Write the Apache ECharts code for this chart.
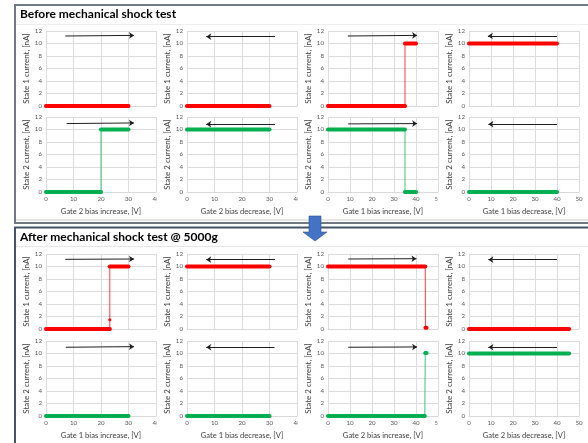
<!DOCTYPE html>
<html><head><meta charset="utf-8">
<script src="https://cdn.jsdelivr.net/npm/echarts@6/dist/echarts.min.js"></script>
<style>html,body{margin:0;padding:0;background:#fff;}#c{width:588px;height:443px;}</style>
</head><body><div id="c"></div>
<script>
// Section titles
const sectionTitles = ['Before mechanical shock test', 'After mechanical shock test @ 5000g'];
// x-axis names of bottom rows (per section)
const xNamesBefore = ['Gate 2 bias increase, [V]', 'Gate 2 bias decrease, [V]', 'Gate 1 bias increase, [V]', 'Gate 1 bias decrease, [V]'];
const xNamesAfter = ['Gate 1 bias increase, [V]', 'Gate 1 bias decrease, [V]', 'Gate 2 bias increase, [V]', 'Gate 2 bias decrease, [V]'];
const yNames = ['State 1 current, [nA]', 'State 2 current, [nA]'];
const xMaxByCol = [40, 40, 50, 50];

// Before: traces [bias V, current nA]
const B_S1_G2inc = [[0,0],[30,0]];
const B_S1_G2dec = [[0,0],[30,0]];
const B_S1_G1inc = [[0,0],[35,0],[35,10],[40,10]];
const B_S1_G1dec = [[0,10],[40,10]];
const B_S2_G2inc = [[0,0],[20,0],[20,10],[30,10]];
const B_S2_G2dec = [[0,10],[30,10]];
const B_S2_G1inc = [[0,10],[35,10],[35,0],[40,0]];
const B_S2_G1dec = [[0,0],[40,0]];
// After
const A_S1_G1inc = [[0,0],[23.2,0],[23.2,1.5],[23.2,10],[30,10]];
const A_S1_G1dec = [[0,10],[30,10]];
const A_S1_G2inc = [[0,10],[44.2,10],[44.3,0.2],[44.8,0.2]];
const A_S1_G2dec = [[0,0],[45.5,0]];
const A_S2_G1inc = [[0,0],[30,0]];
const A_S2_G1dec = [[0,0],[30,0]];
const A_S2_G2inc = [[0,0],[44,0],[44.2,10.1],[44.8,10.1]];
const A_S2_G2dec = [[0,10],[45.5,10]];

// Sweep-direction arrows [start, end]
const B_arrows = [
  [[7,11.2],[32,11.3]], [[32,11.1],[7,11.1]], [[9,11.2],[40.5,11.3]], [[40,11.2],[8.6,11.2]],
  [[7.5,10.95],[32,11.05]], [[32,10.85],[7,10.85]], [[9.2,10.9],[40.5,10.95]], [[40,10.85],[8.8,10.85]]
];
const A_arrows = [
  [[7,11.15],[32,11.2]], [[32,11.1],[7,11.1]], [[9.2,11.2],[40.2,11.25]], [[40,11.1],[8.8,11.1]],
  [[7.2,11.0],[32,11.1]], [[31.8,11.0],[7,11.0]], [[9.2,11.0],[40.5,11.05]], [[40,11.0],[8.8,11.0]]
];

const traces = [B_S1_G2inc,B_S1_G2dec,B_S1_G1inc,B_S1_G1dec,B_S2_G2inc,B_S2_G2dec,B_S2_G1inc,B_S2_G1dec,
                A_S1_G1inc,A_S1_G1dec,A_S1_G2inc,A_S1_G2dec,A_S2_G1inc,A_S2_G1dec,A_S2_G2inc,A_S2_G2dec];
const arrows = B_arrows.concat(A_arrows);

const RED = '#ff0000', GREEN = '#00b050';
const FONT = 'Lato';
const tops = [31, 117, 254, 341];
const lefts = [46, 187, 328, 469];
const W = 110, H = 75;

const grids = [], xAxes = [], yAxes = [], series = [];
for (let i = 0; i < 16; i++) {
  const s = Math.floor(i / 8), r = Math.floor((i % 8) / 4), c = i % 4;
  const bottom = r === 1;
  grids.push({left: lefts[c], top: tops[s*2 + r], width: W, height: H, containLabel: false});
  xAxes.push({
    type: 'value', gridIndex: i, min: 0, max: xMaxByCol[c], interval: 10,
    axisLine: {show: true, lineStyle: {color: '#d9d9d9'}}, axisTick: {show: false},
    splitLine: {show: true, lineStyle: {color: '#dcdcdc', width: 1}},
    axisLabel: {show: bottom, fontSize: 6.2, color: '#595959', margin: 4, fontFamily: FONT},
    name: bottom ? (s === 0 ? xNamesBefore[c] : xNamesAfter[c]) : '',
    nameLocation: 'middle', nameGap: 16,
    nameTextStyle: {fontSize: 7.6, color: '#404040', fontFamily: FONT}
  });
  yAxes.push({
    type: 'value', gridIndex: i, min: 0, max: 12, interval: 2,
    axisLine: {show: false}, axisTick: {show: false},
    splitLine: {show: true, lineStyle: {color: '#dcdcdc', width: 1}},
    axisLabel: {fontSize: 6.2, color: '#595959', margin: 4, fontFamily: FONT},
    name: yNames[r], nameLocation: 'middle', nameGap: 16, nameRotate: 90,
    nameTextStyle: {fontSize: 8, color: '#404040', fontFamily: FONT}
  });
  const col = r === 0 ? RED : GREEN;
  const tr = traces[i];
  series.push({type: 'line', xAxisIndex: i, yAxisIndex: i, data: tr, symbol: 'circle', symbolSize: 3,
    showSymbol: true, lineStyle: {color: col, width: 1, opacity: 0.75}, itemStyle: {color: col}, z: 2, silent: true});
  for (let k = 0; k < tr.length - 1; k++) {
    const a = tr[k], b = tr[k+1];
    if (Math.abs(b[1] - a[1]) < Math.abs(b[0] - a[0])) {
      series.push({type: 'line', xAxisIndex: i, yAxisIndex: i, data: [a, b], symbol: 'none',
        lineStyle: {color: col, width: 4, cap: 'round'}, z: 3, silent: true});
    }
  }
  series.push({type: 'lines', coordinateSystem: 'cartesian2d', xAxisIndex: i, yAxisIndex: i,
    symbol: ['none', 'arrow'], symbolSize: 5,
    lineStyle: {color: '#1f1f1f', width: 1, opacity: 1, curveness: 0},
    data: [{coords: arrows[i]}], z: 4, silent: true});
}

// white masks emulating clipped last tick labels
const masks = [];
[[156.6, 200],[297.6, 200],[437.5, 200],[156.6, 424],[297.6, 424],[437.5, 424]].forEach(p => {
  masks.push({type: 'rect', shape: {x: p[0], y: p[1] - 5, width: 8, height: 10}, style: {fill: '#fff'}, z: 50});
});

const graphic = [
  {type: 'rect', shape: {x: 15, y: 5, width: 600, height: 218}, style: {fill: 'none', stroke: '#707884', lineWidth: 2}, z: 40},
  {type: 'line', shape: {x1: 16, y1: 220, x2: 588, y2: 220}, style: {stroke: '#cfcfcf', lineWidth: 1}, z: 40},
  {type: 'rect', shape: {x: 15, y: 227.5, width: 600, height: 240}, style: {fill: 'none', stroke: '#44546a', lineWidth: 2}, z: 40},
  {type: 'line', shape: {x1: 16, y1: 246.5, x2: 588, y2: 246.5}, style: {stroke: '#e6e6e6', lineWidth: 1}, z: 40},
  {type: 'line', shape: {x1: 16, y1: 24.5, x2: 588, y2: 24.5}, style: {stroke: '#eeeeee', lineWidth: 1}, z: 40},
  {type: 'text', left: 20, top: 8, style: {text: sectionTitles[0], fontSize: 12, fontWeight: 'bold', fill: '#000', fontFamily: FONT}, z: 45},
  {type: 'text', left: 20, top: 231, style: {text: sectionTitles[1], fontSize: 12, fontWeight: 'bold', fill: '#000', fontFamily: FONT}, z: 45},
  {type: 'polygon', shape: {points: [[309,216],[321,216],[321,232],[327,232],[315,241],[303,232],[309,232]]},
   style: {fill: '#4472c4', stroke: '#2f528f', lineWidth: 0.6}, z: 60}
].concat(masks);

const chart = echarts.init(document.getElementById('c'), null, {renderer: 'canvas'});
chart.setOption({animation: false, backgroundColor: '#fff', grid: grids, xAxis: xAxes, yAxis: yAxes, series: series, graphic: graphic});
</script></body></html>
